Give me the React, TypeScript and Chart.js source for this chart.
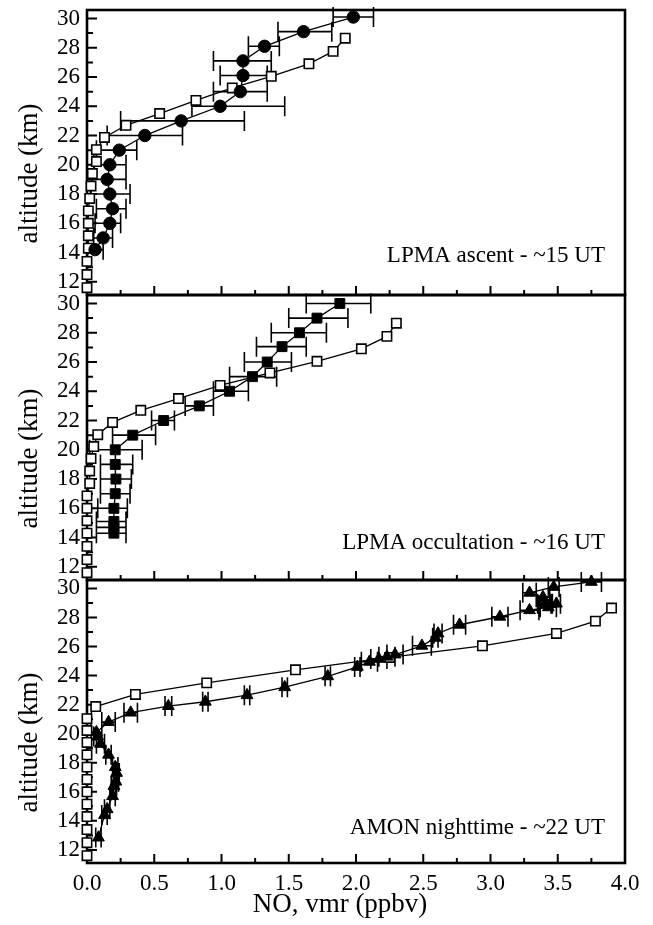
import { useEffect, useRef } from 'react';
import { Chart, registerables } from 'chart.js';

Chart.register(...registerables);

const SERIF = '"Liberation Serif", "Times New Roman", Times, serif';
const W = 653;
const H = 925;
const PLOT_LEFT = 87;
const PLOT_RIGHT = 625;

// Axis ticks
const altitudeLabels = [12, 14, 16, 18, 20, 22, 24, 26, 28, 30];
const altitudeMarks = [12, 13, 14, 15, 16, 17, 18, 19, 20, 21, 22, 23, 24, 25, 26, 27, 28, 29, 30];
const vmrLabels = [0, 0.5, 1, 1.5, 2, 2.5, 3, 3.5, 4];
const vmrMarks = [0, 0.25, 0.5, 0.75, 1, 1.25, 1.5, 1.75, 2, 2.25, 2.5, 2.75, 3, 3.25, 3.5, 3.75, 4];

// Model levels (km) and modelled NO (ppbv) at each time
const modelAltitude = [28.65, 27.75, 26.9, 26.05, 25.25, 24.4, 23.5, 22.7, 21.87, 21.03, 20.22, 19.4, 18.55, 17.7, 16.85, 16.0, 15.15, 14.3, 13.4, 12.5, 11.6];
const modelAscent = [1.92, 1.83, 1.65, 1.37, 1.08, 0.81, 0.54, 0.29, 0.13, 0.07, 0.07, 0.04, 0.03, 0.02, 0.01, 0.01, 0.01, 0.01, 0.0, 0.0, 0.0];
const modelOccultation = [2.30, 2.23, 2.04, 1.71, 1.36, 0.99, 0.68, 0.40, 0.19, 0.08, 0.05, 0.03, 0.02, 0.02, 0.0, 0.0, 0.0, 0.0, 0.0, 0.0, 0.0];
const modelNight = [3.90, 3.78, 3.49, 2.94, 2.25, 1.55, 0.89, 0.36, 0.065, 0.0, 0.0, 0.0, 0.0, 0.0, 0.0, 0.0, 0.0, 0.0, 0.0, 0.0, 0.0];

// LPMA balloon ascent, ~15 UT
const ascentAltitude = [30.1, 29.1, 28.1, 27.1, 26.1, 25.0, 24.0, 23.0, 22.0, 21.0, 20.0, 19.0, 18.0, 17.0, 16.0, 15.0, 14.2];
const ascentVmr = [1.98, 1.61, 1.32, 1.16, 1.16, 1.14, 0.99, 0.70, 0.43, 0.24, 0.17, 0.15, 0.17, 0.19, 0.17, 0.12, 0.06];
const ascentLow = [1.83, 1.42, 1.20, 0.94, 0.99, 0.94, 0.78, 0.25, 0.15, 0.07, 0.05, 0.04, 0.03, 0.07, 0.06, 0.05, 0.0];
const ascentHigh = [2.13, 1.82, 1.43, 1.37, 1.34, 1.34, 1.47, 1.17, 0.71, 0.37, 0.29, 0.29, 0.32, 0.29, 0.25, 0.19, 0.12];

// LPMA solar occultation, ~16 UT
const occAltitude = [30.0, 29.0, 28.0, 27.05, 26.0, 25.0, 24.0, 23.0, 22.0, 21.0, 20.0, 19.0, 18.0, 17.0, 16.0, 15.1, 14.7, 14.3];
const occVmr = [1.88, 1.71, 1.58, 1.45, 1.34, 1.23, 1.06, 0.835, 0.57, 0.34, 0.21, 0.21, 0.215, 0.21, 0.20, 0.20, 0.20, 0.20];
const occLow = [1.63, 1.50, 1.37, 1.26, 1.17, 1.06, 0.94, 0.73, 0.48, 0.19, 0.02, 0.10, 0.10, 0.10, 0.08, 0.07, 0.07, 0.07];
const occHigh = [2.11, 1.94, 1.78, 1.63, 1.52, 1.41, 1.20, 0.94, 0.65, 0.51, 0.41, 0.34, 0.33, 0.32, 0.30, 0.29, 0.29, 0.29];

// AMON nighttime, ~22 UT
const amonAltitude = [30.45, 30.1, 29.7, 29.4, 28.95, 28.95, 28.7, 28.5, 28.05, 27.5, 26.9, 26.6, 26.05, 25.45, 25.3, 25.15, 24.95, 24.6, 23.95, 23.2, 22.65, 22.2, 21.9, 21.45, 20.8, 20.1, 19.8, 19.3, 18.55, 17.7, 17.3, 16.7, 16.4, 15.7, 14.8, 14.4, 12.85];
const amonVmr = [3.75, 3.47, 3.29, 3.39, 3.49, 3.40, 3.43, 3.29, 3.07, 2.77, 2.61, 2.59, 2.49, 2.29, 2.23, 2.17, 2.10, 2.01, 1.79, 1.47, 1.19, 0.88, 0.605, 0.325, 0.16, 0.07, 0.08, 0.10, 0.16, 0.21, 0.22, 0.215, 0.20, 0.19, 0.15, 0.13, 0.085];
const amonError = [0.075, 0.04, 0.05, 0.05, 0.03, 0.05, 0.06, 0.07, 0.06, 0.045, 0.03, 0.02, 0.07, 0.06, 0.06, 0.06, 0.06, 0.02, 0.02, 0.02, 0.02, 0.02, 0.025, 0.05, 0.05, 0.04, 0.03, 0.03, 0.02, 0.02, 0.02, 0.02, 0.02, 0.02, 0.02, 0.02, 0.02];

type Panel = {
  top: number;
  bottom: number;
  note: string;
  noteY: number;
  model: number[];
  obsAltitude: number[];
  obsVmr: number[];
  obsLow: number[];
  obsHigh: number[];
  marker: 'circle' | 'rect' | 'triangle';
  markerRadius: number;
  bottomPanel: boolean;
};

const panels: Panel[] = [
  {
    top: 10, bottom: 295, note: 'LPMA ascent - ~15 UT', noteY: 262,
    model: modelAscent,
    obsAltitude: ascentAltitude, obsVmr: ascentVmr, obsLow: ascentLow, obsHigh: ascentHigh,
    marker: 'circle', markerRadius: 6.2, bottomPanel: false,
  },
  {
    top: 295, bottom: 580, note: 'LPMA occultation - ~16 UT', noteY: 549,
    model: modelOccultation,
    obsAltitude: occAltitude, obsVmr: occVmr, obsLow: occLow, obsHigh: occHigh,
    marker: 'rect', markerRadius: 7, bottomPanel: false,
  },
  {
    top: 580, bottom: 863, note: 'AMON nighttime - ~22 UT', noteY: 834,
    model: modelNight,
    obsAltitude: amonAltitude, obsVmr: amonVmr,
    obsLow: amonVmr.map((v, i) => v - amonError[i]),
    obsHigh: amonVmr.map((v, i) => v + amonError[i]),
    marker: 'triangle', markerRadius: 6.8, bottomPanel: true,
  },
];

const framePlugin = (p: Panel) => ({
  id: 'frame',
  beforeDatasetsDraw(chart: any) {
    const { ctx, chartArea: a, scales } = chart;
    const xs = scales.x;
    const ys = scales.y;
    ctx.save();
    ctx.strokeStyle = '#000';
    ctx.lineWidth = 2;
    ctx.beginPath();
    altitudeMarks.forEach((v) => {
      const py = ys.getPixelForValue(v);
      const len = altitudeLabels.includes(v) ? 10 : 6;
      ctx.moveTo(a.left, py);
      ctx.lineTo(a.left + len, py);
    });
    vmrMarks.forEach((v) => {
      const px = xs.getPixelForValue(v);
      const len = vmrLabels.includes(v) ? 9 : 5;
      ctx.moveTo(px, a.bottom);
      ctx.lineTo(px, a.bottom - len);
    });
    ctx.stroke();
    ctx.lineWidth = 2.6;
    ctx.strokeRect(a.left, a.top, a.right - a.left, a.bottom - a.top);
    ctx.restore();
  },
});

const errorBarPlugin = (p: Panel) => ({
  id: 'errorBars',
  beforeDatasetsDraw(chart: any) {
    const { ctx, scales } = chart;
    const xs = scales.x;
    const ys = scales.y;
    ctx.save();
    ctx.strokeStyle = '#000';
    ctx.lineWidth = 1.6;
    ctx.beginPath();
    p.obsAltitude.forEach((alt, i) => {
      const py = ys.getPixelForValue(alt);
      const x0 = xs.getPixelForValue(p.obsLow[i]);
      const x1 = xs.getPixelForValue(p.obsHigh[i]);
      ctx.moveTo(x0, py);
      ctx.lineTo(x1, py);
      ctx.moveTo(x0, py - 10);
      ctx.lineTo(x0, py + 10);
      ctx.moveTo(x1, py - 10);
      ctx.lineTo(x1, py + 10);
    });
    ctx.stroke();
    ctx.restore();
  },
});

const textPlugin = (p: Panel) => ({
  id: 'panelText',
  afterDraw(chart: any) {
    const { ctx } = chart;
    ctx.save();
    ctx.fillStyle = '#000';
    ctx.font = `23px ${SERIF}`;
    ctx.textAlign = 'right';
    ctx.textBaseline = 'alphabetic';
    ctx.fillText(p.note, 605, p.noteY);

    ctx.save();
    ctx.translate(30, (p.top + p.bottom) / 2 + 21);
    ctx.rotate(-Math.PI / 2);
    ctx.font = `27px ${SERIF}`;
    ctx.textAlign = 'center';
    ctx.textBaseline = 'middle';
    ctx.fillText('altitude (km)', 0, 0);
    ctx.restore();

    if (p.bottomPanel) {
      ctx.font = `27px ${SERIF}`;
      ctx.textAlign = 'center';
      ctx.textBaseline = 'alphabetic';
      ctx.fillText('NO, vmr (ppbv)', 340, 912);
    }
    ctx.restore();
  },
});

function buildChart(canvas: HTMLCanvasElement, p: Panel) {
  const xHeight = p.bottomPanel ? H - p.bottom : 0;
  const tickFont = { family: SERIF, size: 23 };
  return new Chart(canvas, {
    type: 'scatter',
    data: {
      datasets: [
        {
          data: p.obsAltitude.map((alt, i) => ({ x: p.obsVmr[i], y: alt })),
          showLine: true,
          borderColor: '#000',
          borderWidth: 1.3,
          pointStyle: p.marker,
          pointRadius: p.markerRadius,
          pointBackgroundColor: '#000',
          pointBorderColor: '#000',
          pointBorderWidth: 1,
          clip: false,
          order: 0,
        },
        {
          data: modelAltitude.map((alt, i) => ({ x: p.model[i], y: alt })),
          showLine: true,
          borderColor: '#000',
          borderWidth: 1.3,
          pointStyle: 'rect',
          pointRadius: 6.6,
          pointBackgroundColor: '#fff',
          pointBorderColor: '#000',
          pointBorderWidth: 1.6,
          clip: false,
          order: 1,
        },
      ] as any,
    },
    options: {
      animation: false,
      responsive: false,
      devicePixelRatio: 1,
      events: [],
      layout: { padding: { top: p.top, bottom: H - p.bottom - xHeight, left: 0, right: W - PLOT_RIGHT } },
      plugins: { legend: { display: false }, tooltip: { enabled: false } },
      scales: {
        x: {
          type: 'linear',
          min: 0,
          max: 4,
          grid: { display: false, drawTicks: false },
          border: { display: false },
          ticks: {
            display: p.bottomPanel,
            padding: 7,
            font: tickFont,
            color: '#000',
            callback: (v: any) => Number(v).toFixed(1),
          },
          afterBuildTicks: (s: any) => {
            s.ticks = vmrLabels.map((value) => ({ value }));
          },
          afterFit: (s: any) => {
            s.height = xHeight;
            s.paddingLeft = 0;
            s.paddingRight = 0;
          },
        },
        y: {
          type: 'linear',
          min: 11.1,
          max: 30.58,
          grid: { display: false, drawTicks: false },
          border: { display: false },
          ticks: {
            padding: 7,
            font: tickFont,
            color: '#000',
            callback: (v: any) => String(v),
          },
          afterBuildTicks: (s: any) => {
            s.ticks = altitudeLabels.map((value) => ({ value }));
          },
          afterFit: (s: any) => {
            s.width = PLOT_LEFT;
            s.paddingTop = 0;
            s.paddingBottom = 0;
          },
        },
      },
    } as any,
    plugins: [framePlugin(p), errorBarPlugin(p), textPlugin(p)],
  });
}

export default function App() {
  const ref0 = useRef<HTMLCanvasElement>(null);
  const ref1 = useRef<HTMLCanvasElement>(null);
  const ref2 = useRef<HTMLCanvasElement>(null);
  const refs = [ref0, ref1, ref2];

  useEffect(() => {
    const charts = panels.map((p, i) => buildChart(refs[i].current as HTMLCanvasElement, p));
    return () => charts.forEach((c) => c.destroy());
  }, []);

  return (
    <div style={{ position: 'fixed', left: 0, top: 0, width: W, height: H, background: '#fff' }}>
      {panels.map((p, i) => (
        <canvas
          key={i}
          ref={refs[i]}
          width={W}
          height={H}
          style={{ position: 'absolute', left: 0, top: 0, width: W, height: H }}
        />
      ))}
    </div>
  );
}
